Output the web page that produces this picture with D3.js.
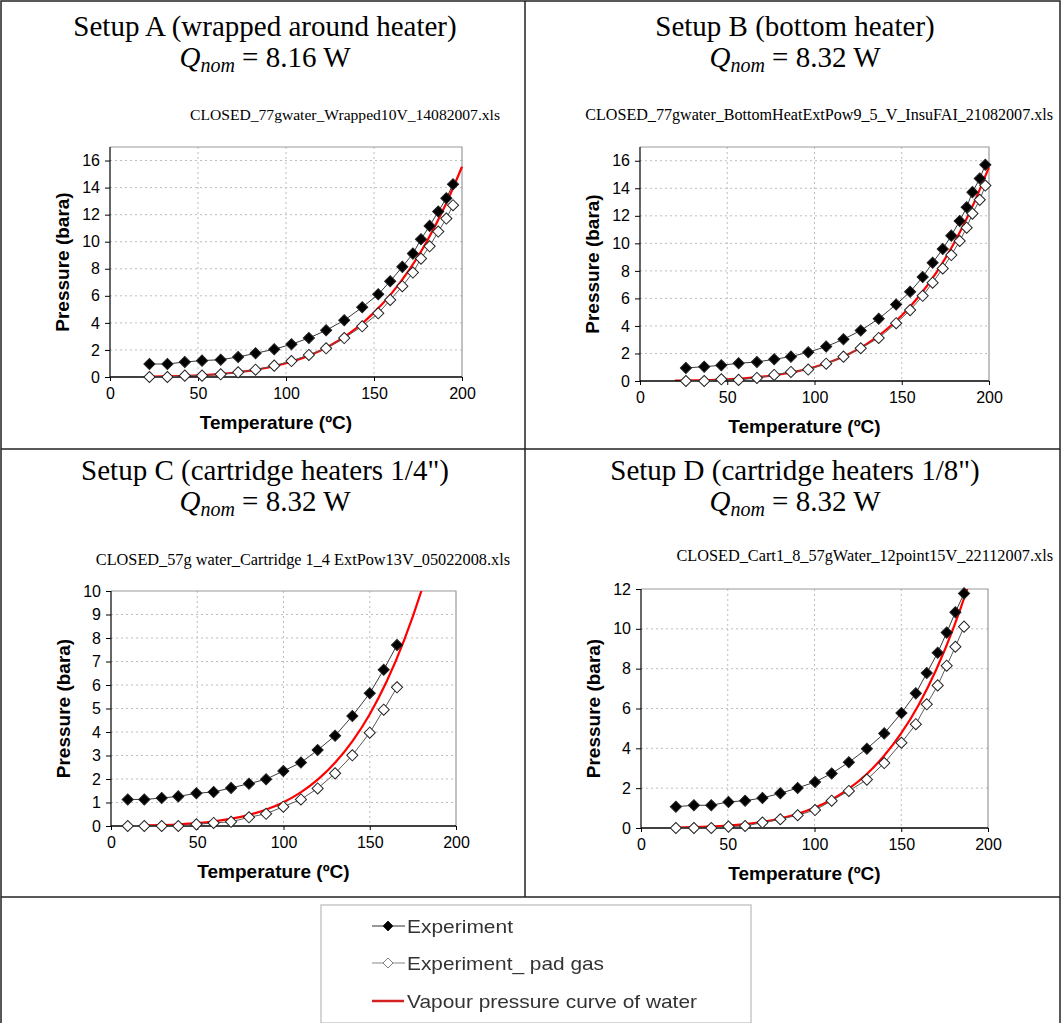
<!DOCTYPE html>
<html>
<head>
<meta charset="utf-8">
<script src="https://cdn.jsdelivr.net/npm/d3@7"></script>
<style>
  html, body { margin: 0; padding: 0; background: #fff; }
  svg { display: block; }
</style>
</head>
<body>
<script>
// ---- Data -------------------------------------------------------------
const xTickValues = [0, 50, 100, 150, 200];

// Setup A (wrapped around heater)
const tempA = [22.4, 32.6, 42.5, 52.3, 62.9, 72.8, 82.7, 93.3, 103.1, 113.0, 122.8,
               133.1, 143.3, 152.4, 159.2, 166.1, 172.1, 176.7, 181.6, 186.5, 191.1, 194.9];
const expA  = [0.96, 0.96, 1.11, 1.21, 1.28, 1.48, 1.75, 2.05, 2.42, 2.88, 3.45,
               4.19, 5.15, 6.11, 7.08, 8.14, 9.12, 10.18, 11.17, 12.23, 13.21, 14.25];
const padA  = [0.0, 0.0, 0.1, 0.1, 0.2, 0.35, 0.54, 0.84, 1.18, 1.63, 2.12,
               2.88, 3.75, 4.71, 5.70, 6.71, 7.72, 8.75, 9.66, 10.75, 11.71, 12.70];
const yTicksA = [0, 2, 4, 6, 8, 10, 12, 14, 16];

// Setup B (bottom heater)
const tempB = [26.3, 36.8, 46.6, 56.5, 67.0, 76.9, 86.5, 96.4, 106.7, 116.6, 126.5, 136.8,
               146.8, 154.8, 162.0, 167.7, 173.5, 178.4, 183.2, 187.2, 190.5, 194.7, 197.9];
const expB  = [0.95, 1.04, 1.14, 1.29, 1.38, 1.58, 1.77, 2.09, 2.50, 3.03, 3.67, 4.52,
               5.56, 6.48, 7.55, 8.59, 9.59, 10.56, 11.63, 12.62, 13.72, 14.71, 15.71];
const padB  = [0.0, 0.0, 0.12, 0.08, 0.22, 0.44, 0.66, 0.83, 1.26, 1.77, 2.38, 3.13,
               4.20, 5.15, 6.19, 7.14, 8.18, 9.15, 10.17, 11.14, 12.16, 13.16, 14.20];
const yTicksB = [0, 2, 4, 6, 8, 10, 12, 14, 16];

// Setup C (cartridge heaters 1/4")
const tempC = [9.7, 19.3, 29.4, 39.0, 49.5, 59.5, 69.6, 80.0, 89.9, 99.9, 110.1,
               119.8, 129.9, 139.9, 150.0, 158.1, 165.8];
const expC  = [1.13, 1.13, 1.19, 1.26, 1.39, 1.45, 1.62, 1.80, 1.99, 2.34, 2.70,
               3.23, 3.84, 4.68, 5.65, 6.65, 7.70];
const padC  = [0.0, 0.0, 0.0, 0.0, 0.07, 0.13, 0.18, 0.37, 0.52, 0.82, 1.13,
               1.60, 2.24, 3.01, 3.97, 4.95, 5.90];
const yTicksC = [0, 1, 2, 3, 4, 5, 6, 7, 8, 9, 10];

// Setup D (cartridge heaters 1/8")
const tempD = [20.1, 30.5, 40.5, 50.4, 60.0, 70.0, 80.3, 90.3, 100.3, 109.9,
               119.8, 130.2, 140.2, 150.1, 158.4, 164.7, 171.0, 176.2, 181.2, 186.2];
const expD  = [1.07, 1.14, 1.14, 1.31, 1.37, 1.51, 1.74, 2.01, 2.31, 2.74,
               3.30, 3.98, 4.75, 5.77, 6.76, 7.78, 8.80, 9.81, 10.83, 11.78];
const padD  = [0.0, 0.0, 0.0, 0.07, 0.10, 0.27, 0.44, 0.64, 0.90, 1.37,
               1.86, 2.43, 3.26, 4.28, 5.21, 6.21, 7.16, 8.15, 9.10, 10.11];
const yTicksD = [0, 2, 4, 6, 8, 10, 12];

// Saturation (vapour) pressure of water, bara
const vapourT = [20, 30, 40, 50, 60, 70, 80, 90, 100, 110, 120, 130, 140,
                 150, 160, 170, 180, 190, 200];
const vapourP = [0.023, 0.042, 0.074, 0.123, 0.199, 0.312, 0.474, 0.701, 1.013, 1.433,
                 1.985, 2.701, 3.613, 4.758, 6.178, 7.917, 10.02, 12.54, 15.54];

const legendLabels = ["Experiment", "Experiment_ pad gas", "Vapour pressure curve of water"];

// ---- Panels -----------------------------------------------------------
const panels = [
  { title: "Setup A (wrapped around heater)", q: "8.16 W",
    file: "CLOSED_77gwater_Wrapped10V_14082007.xls",
    T: tempA, exp: expA, pad: padA, yTicks: yTicksA, yMax: 17 },
  { title: "Setup B (bottom heater)", q: "8.32 W",
    file: "CLOSED_77gwater_BottomHeatExtPow9_5_V_InsuFAI_21082007.xls",
    T: tempB, exp: expB, pad: padB, yTicks: yTicksB, yMax: 17 },
  { title: "Setup C (cartridge heaters 1/4\")", q: "8.32 W",
    file: "CLOSED_57g water_Cartridge 1_4 ExtPow13V_05022008.xls",
    T: tempC, exp: expC, pad: padC, yTicks: yTicksC, yMax: 10 },
  { title: "Setup D (cartridge heaters 1/8\")", q: "8.32 W",
    file: "CLOSED_Cart1_8_57gWater_12point15V_22112007.xls",
    T: tempD, exp: expD, pad: padD, yTicks: yTicksD, yMax: 12 }
];

// Page placement of each panel (titles and plot rectangle)
const layout = [
  { cx: 265, titleY: 36, qY: 67, fileX: 500, fileY: 120, fileSize: 15.6, left: 110, right: 462, top: 147, bottom: 377 },
  { cx: 795, titleY: 36, qY: 67, fileX: 1053, fileY: 120, fileSize: 16.1, left: 640, right: 989, top: 147, bottom: 381 },
  { cx: 265, titleY: 480, qY: 511, fileX: 510, fileY: 565, fileSize: 16.3, left: 111, right: 456, top: 591, bottom: 826 },
  { cx: 795, titleY: 480, qY: 511, fileX: 1053, fileY: 561, fileSize: 16.3, left: 641, right: 988, top: 589, bottom: 828 }
];

const W = 1061, H = 1023;
const svg = d3.select("body").append("svg").attr("width", W).attr("height", H);
const defs = svg.append("defs");
defs.append("filter").attr("id", "soft").append("feGaussianBlur").attr("stdDeviation", 0.45);

// Table frame
const frame = svg.append("g").attr("stroke", "#222").attr("stroke-width", 1.5).attr("fill", "none");
frame.append("rect").attr("x", 1).attr("y", 1).attr("width", W - 2).attr("height", H + 5);
frame.append("line").attr("x1", 525).attr("x2", 525).attr("y1", 1).attr("y2", 897);
frame.append("line").attr("x1", 1).attr("x2", W - 1).attr("y1", 449).attr("y2", 449);
frame.append("line").attr("x1", 1).attr("x2", W - 1).attr("y1", 897).attr("y2", 897);

const diamond = d3.symbol().type(d3.symbolSquare).size(62);

panels.forEach((p, i) => {
  const L = layout[i];
  const g = svg.append("g");

  // Headings
  g.append("text").attr("x", L.cx).attr("y", L.titleY).attr("text-anchor", "middle")
    .attr("font-family", "'Liberation Serif', 'Times New Roman', serif").attr("font-size", 29)
    .attr("fill", "#000").text(p.title);
  const q = g.append("text").attr("x", L.cx).attr("y", L.qY).attr("text-anchor", "middle")
    .attr("font-family", "'Liberation Serif', 'Times New Roman', serif").attr("font-size", 29)
    .attr("fill", "#000");
  q.append("tspan").attr("font-style", "italic").text("Q");
  q.append("tspan").attr("font-style", "italic").attr("font-size", 20).attr("dy", 5).text("nom");
  q.append("tspan").attr("dy", -5).text(" = " + p.q);
  g.append("text").attr("x", L.fileX).attr("y", L.fileY).attr("text-anchor", "end")
    .attr("font-family", "'Liberation Serif', 'Times New Roman', serif").attr("font-size", L.fileSize)
    .attr("fill", "#000").text(p.file);

  // Scales
  const x = d3.scaleLinear().domain([0, 200]).range([L.left, L.right]);
  const y = d3.scaleLinear().domain([0, p.yMax]).range([L.bottom, L.top]);

  // Grid
  const grid = g.append("g").attr("stroke", "#bdbdbd").attr("stroke-width", 1)
    .attr("stroke-dasharray", "2,3");
  grid.selectAll("line.h").data(p.yTicks.filter(v => v > 0 && v < p.yMax)).join("line")
    .attr("x1", L.left).attr("x2", L.right).attr("y1", d => y(d)).attr("y2", d => y(d));
  grid.selectAll("line.v").data(xTickValues.filter(v => v > 0 && v < 200)).join("line")
    .attr("y1", L.top).attr("y2", L.bottom).attr("x1", d => x(d)).attr("x2", d => x(d));

  // Plot border (top / right)
  g.append("path").attr("fill", "none").attr("stroke", "#9a9a9a").attr("stroke-width", 1.2)
    .attr("d", `M${L.left},${L.top}H${L.right}V${L.bottom}`);

  // Clip for the vapour curve
  const clipId = "clip" + i;
  defs.append("clipPath").attr("id", clipId).append("rect")
    .attr("x", L.left).attr("y", L.top).attr("width", L.right - L.left + 1).attr("height", L.bottom - L.top);

  const vap = vapourT.map((t, k) => [t, vapourP[k]]);
  g.append("path").datum(vap).attr("clip-path", `url(#${clipId})`)
    .attr("fill", "none").attr("stroke", "#ff0000").attr("stroke-width", 2.2)
    .attr("d", d3.line().x(d => x(d[0])).y(d => y(d[1])).curve(d3.curveMonotoneX));

  // Axes
  const yAxis = d3.axisLeft(y).tickValues(p.yTicks).tickSize(5).tickPadding(5);
  const xAxis = d3.axisBottom(x).tickValues(xTickValues).tickSize(4).tickPadding(7);
  const ya = g.append("g").attr("transform", `translate(${L.left},0)`).call(yAxis);
  const xa = g.append("g").attr("transform", `translate(0,${L.bottom})`).call(xAxis);
  [ya, xa].forEach(a => {
    a.select(".domain").remove();
    a.selectAll("line").attr("stroke", "#000");
    a.selectAll("text").attr("font-family", "'Liberation Sans', Arial, sans-serif")
      .attr("font-size", 16).attr("fill", "#000");
  });
  g.append("line").attr("x1", L.left).attr("x2", L.left).attr("y1", L.top).attr("y2", L.bottom)
    .attr("stroke", "#000").attr("stroke-width", 1.2);
  g.append("line").attr("x1", L.left).attr("x2", L.right).attr("y1", L.bottom).attr("y2", L.bottom)
    .attr("stroke", "#000").attr("stroke-width", 1.5);

  // Axis titles
  g.append("text").attr("x", (L.left + L.right) / 2 - 10).attr("y", L.bottom + 52)
    .attr("text-anchor", "middle").attr("font-family", "'Liberation Sans', Arial, sans-serif")
    .attr("font-weight", "bold").attr("font-size", 19).text("Temperature (ºC)");
  g.append("text").attr("transform", `translate(${L.left - 41},${(L.top + L.bottom) / 2}) rotate(-90)`)
    .attr("text-anchor", "middle").attr("font-family", "'Liberation Sans', Arial, sans-serif")
    .attr("font-weight", "bold").attr("font-size", 19).text("Pressure (bara)");

  // Experimental series
  const series = [
    { vals: p.exp, fill: "#000", line: "#3a3a3a" },
    { vals: p.pad, fill: "#fff", line: "#5a5a5a" }
  ];
  series.forEach(s => {
    const pts = p.T.map((t, k) => [t, s.vals[k]]);
    g.append("path").datum(pts).attr("fill", "none").attr("stroke", s.line).attr("stroke-width", 1)
      .attr("d", d3.line().x(d => x(d[0])).y(d => y(d[1])));
    g.append("g").selectAll("path").data(pts).join("path")
      .attr("d", diamond)
      .attr("transform", d => `translate(${x(d[0])},${y(d[1])}) rotate(45)`)
      .attr("fill", s.fill).attr("stroke", "#222").attr("stroke-width", 1);
  });
});

// Legend
const lg = svg.append("g").attr("filter", "url(#soft)");
lg.append("rect").attr("x", 321).attr("y", 905).attr("width", 430).attr("height", 118)
  .attr("fill", "#fff").attr("stroke", "#c8c8c8").attr("stroke-width", 1.5);
const rowsY = [926, 963, 1001];
const labelWidths = [106, 197, 290];
legendLabels.forEach((lab, k) => {
  const yy = rowsY[k];
  if (k < 2) {
    lg.append("line").attr("x1", 372).attr("x2", 405).attr("y1", yy).attr("y2", yy)
      .attr("stroke", k === 0 ? "#333" : "#888").attr("stroke-width", 1.2);
    lg.append("path").attr("d", diamond)
      .attr("transform", `translate(388,${yy}) rotate(45) scale(0.9)`)
      .attr("fill", k === 0 ? "#000" : "#fff").attr("stroke", k === 0 ? "#222" : "#777");
  } else {
    lg.append("line").attr("x1", 372).attr("x2", 404).attr("y1", yy).attr("y2", yy)
      .attr("stroke", "#d42020").attr("stroke-width", 2.5);
  }
  lg.append("text").attr("x", 407).attr("y", yy + 7)
    .attr("font-family", "'Liberation Sans', Arial, sans-serif").attr("font-size", 19)
    .attr("textLength", labelWidths[k]).attr("lengthAdjust", "spacingAndGlyphs")
    .attr("fill", "#333").text(lab);
});
</script>
</body>
</html>
